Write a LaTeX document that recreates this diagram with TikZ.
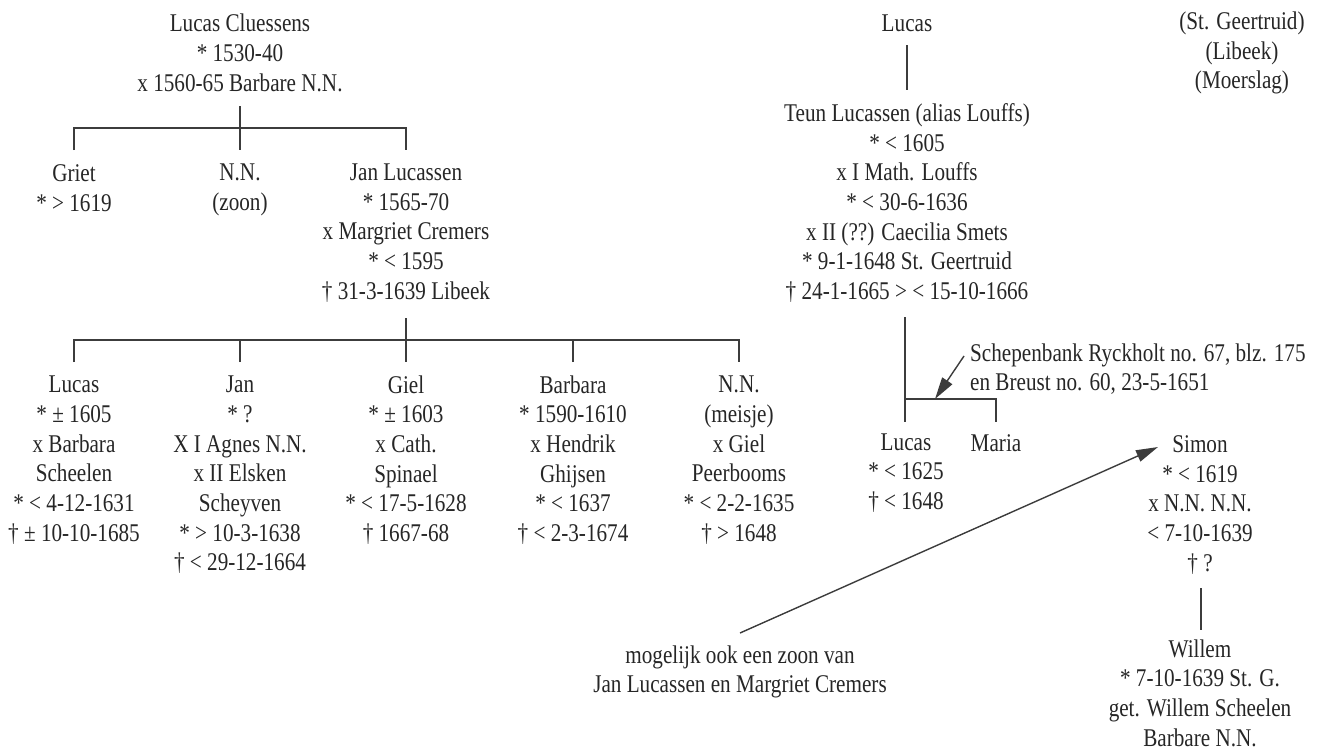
\documentclass[tikz,border=0pt]{standalone}
\usepackage{fontspec}
\setmainfont{Liberation Serif}[FakeStretch=0.83]
\usetikzlibrary{arrows.meta}
\definecolor{ink}{HTML}{262626}
\definecolor{rulecol}{HTML}{3C3C3C}
\begin{document}
\begin{tikzpicture}[x=1pt,y=-1pt,
  person/.style={align=center, inner sep=0pt, text=ink, font=\fontsize{25.5}{29.7}\selectfont},
  link/.style={draw=rulecol, line width=1.4pt},
  pointer/.style={draw=rulecol, line width=1.4pt, -{Triangle[length=22pt,width=12pt]}}]
\useasboundingbox (0,0) rectangle (1330,753);

% first family
\node[person] (lc) at (240,53) {Lucas Cluessens\\* 1530-40\\x 1560-65 Barbare N.N.};
\node[person] (griet) at (74,188) {Griet\\* > 1619};
\node[person] (nnzoon) at (240,190) {N.N.\\(zoon)};
\node[person] (jan) at (406,233) {Jan Lucassen\\* 1565-70\\x Margriet Cremers\\* < 1595\\† 31-3-1639 Libeek};

\node[person] (lucasA) at (74,460) {Lucas\\* ± 1605\\x Barbara\\Scheelen\\* < 4-12-1631\\† ± 10-10-1685};
\node[person] (janB) at (240,475) {Jan\\* ?\\X I Agnes N.N.\\x II Elsken\\Scheyven\\* > 10-3-1638\\† < 29-12-1664};
\node[person] (giel) at (406,460) {Giel\\* ± 1603\\x Cath.\\Spinael\\* < 17-5-1628\\† 1667-68};
\node[person] (barbara) at (573,460) {Barbara\\* 1590-1610\\x Hendrik\\Ghijsen\\* < 1637\\† < 2-3-1674};
\node[person] (meisje) at (739,460) {N.N.\\(meisje)\\x Giel\\Peerbooms\\* < 2-2-1635\\† > 1648};

% second family
\node[person] (lucasR) at (907,23) {Lucas};
\node[person] (teun) at (907,203) {Teun Lucassen (alias Louffs)\\* < 1605\\x I Math. Louffs\\* < 30-6-1636\\x II (??) Caecilia Smets\\* 9-1-1648 St. Geertruid\\† 24-1-1665 > < 15-10-1666};
\node[person] (lucasC) at (906,473) {Lucas\\* < 1625\\† < 1648};
\node[person] (maria) at (996,443) {Maria};
\node[person, align=left, anchor=west] (schep) at (970,369) {Schepenbank Ryckholt no. 67, blz. 175\\en Breust no. 60, 23-5-1651};
\node[person] (simon) at (1200,505) {Simon\\* < 1619\\x N.N. N.N.\\< 7-10-1639\\† ?};
\node[person] (willem) at (1200,693) {Willem\\* 7-10-1639 St. G.\\get. Willem Scheelen\\Barbare N.N.};
\node[person] (note) at (740,672) {mogelijk ook een zoon van\\Jan Lucassen en Margriet Cremers};
\node[person] (places) at (1242,53) {(St. Geertruid)\\(Libeek)\\(Moerslag)};

% connector points
\coordinate (lcS) at (240,106);
\coordinate (bar1) at (240,128);
\coordinate (grietN) at (74,150);
\coordinate (nnN) at (240,150);
\coordinate (janN) at (406,150);

\coordinate (janS) at (406,318);
\coordinate (bar2) at (406,340);
\coordinate (lucasAN) at (74,362);
\coordinate (janBN) at (240,362);
\coordinate (gielN) at (406,362);
\coordinate (barbaraN) at (573,362);
\coordinate (meisjeN) at (739,362);

\coordinate (lucasRS) at (907,45);
\coordinate (teunN) at (907,90);
\coordinate (teunS) at (905,317);
\coordinate (bar3) at (905,399);
\coordinate (lucasCN) at (905,422);
\coordinate (mariaN) at (996,422);

\coordinate (simonS) at (1201,588);
\coordinate (willemN) at (1201,630);

\coordinate (schepA) at (964,356);
\coordinate (schepT) at (935,399);
\coordinate (noteA) at (740,633);
\coordinate (simonT) at (1158,447);

% tree lines
\draw[link] (lcS) -- (nnN);
\draw[link] (grietN) |- (bar1) -| (janN);

\draw[link] (janS) -- (gielN);
\draw[link] (lucasAN) |- (bar2) -| (meisjeN);
\draw[link] (janBN) -- (janBN |- bar2);
\draw[link] (barbaraN) -- (barbaraN |- bar2);

\draw[link] (lucasRS) -- (teunN);
\draw[link] (teunS) -- (lucasCN);
\draw[link] (bar3) -| (mariaN);

\draw[link] (simonS) -- (willemN);

% pointers
\draw[pointer] (schepA) -- (schepT);
\draw[pointer] (noteA) -- (simonT);
\end{tikzpicture}
\end{document}
